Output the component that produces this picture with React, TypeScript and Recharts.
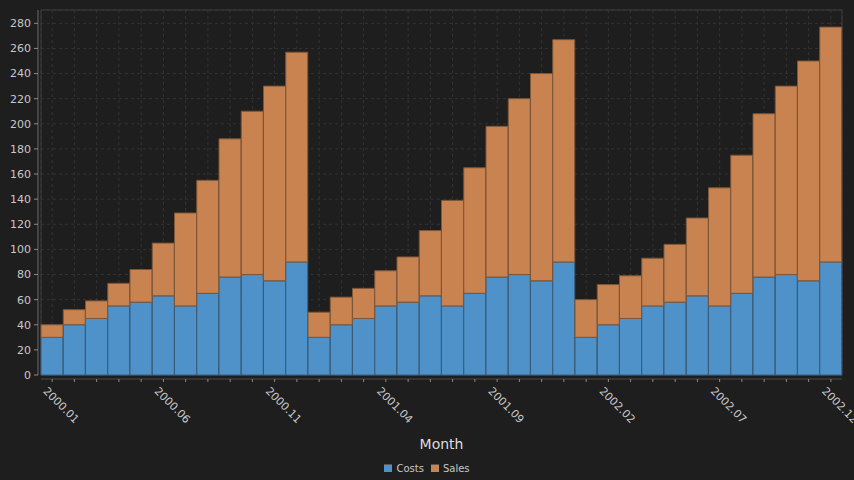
import React from 'react';
import { BarChart, Bar, XAxis, YAxis, CartesianGrid, Legend, Label, ReferenceArea } from 'recharts';

const months: string[] = [
  '2000.01','2000.02','2000.03','2000.04','2000.05','2000.06','2000.07','2000.08','2000.09','2000.10','2000.11','2000.12',
  '2001.01','2001.02','2001.03','2001.04','2001.05','2001.06','2001.07','2001.08','2001.09','2001.10','2001.11','2001.12',
  '2002.01','2002.02','2002.03','2002.04','2002.05','2002.06','2002.07','2002.08','2002.09','2002.10','2002.11','2002.12',
];

const costs: number[] = [
  30, 40, 45, 55, 58, 63, 55, 65, 78, 80, 75, 90,
  30, 40, 45, 55, 58, 63, 55, 65, 78, 80, 75, 90,
  30, 40, 45, 55, 58, 63, 55, 65, 78, 80, 75, 90,
];

const sales: number[] = [
  10, 12, 14, 18, 26, 42, 74, 90, 110, 130, 155, 167,
  20, 22, 24, 28, 36, 52, 84, 100, 120, 140, 165, 177,
  30, 32, 34, 38, 46, 62, 94, 110, 130, 150, 175, 187,
];

const yTicks: number[] = [0, 20, 40, 60, 80, 100, 120, 140, 160, 180, 200, 220, 240, 260, 280];

const data = months.map((m, i) => ({ month: m, Costs: costs[i], Sales: sales[i] }));

const BG = '#1e1e1e';
const BLUE = '#4f91c9';
const ORANGE = '#c98350';
const TEXT = '#c8c8c8';
const FONT = '"DejaVu Sans", sans-serif';

const XTick = (props: any) => {
  const { x, index, payload } = props;
  if (index % 5 !== 0) return null;
  const ox = x - 7;
  const oy = 389;
  return (
    <text
      x={ox}
      y={oy}
      dy="0.35em"
      textAnchor="start"
      transform={`rotate(45, ${ox}, ${oy})`}
      fill={TEXT}
      fontSize={11}
      fontFamily={FONT}
    >
      {payload.value}
    </text>
  );
};

const legendItems = [
  { name: 'Costs', color: BLUE },
  { name: 'Sales', color: ORANGE },
];

const LegendContent = () => (
  <div
    style={{
      width: 854,
      height: 24,
      display: 'flex',
      justifyContent: 'center',
      alignItems: 'center',
      fontFamily: FONT,
      fontSize: 10,
      color: TEXT,
    }}
  >
    {legendItems.map((it, i) => (
      <div
        key={it.name}
        style={{ display: 'flex', alignItems: 'center', marginLeft: i === 0 ? 0 : 7 }}
      >
        <div
          style={{
            width: 8,
            height: 7,
            background: it.color,
            borderTop: '1px solid #555',
            marginRight: 4,
          }}
        />
        <span>{it.name}</span>
      </div>
    ))}
  </div>
);

export default function App() {
  return (
    <div style={{ position: 'absolute', left: 0, top: 0, width: 854, height: 480, background: BG }}>
      <BarChart
        width={854}
        height={480}
        data={data}
        margin={{ top: 10, right: 12, bottom: 0, left: 0 }}
        barCategoryGap={0}
        barGap={0}
      >
        <CartesianGrid stroke="#333333" strokeDasharray="3 3" />
        <XAxis
          dataKey="month"
          interval={0}
          height={81}
          tickSize={3}
          tickMargin={0}
          tick={<XTick />}
          axisLine={{ stroke: '#4a4a4a', transform: 'translate(0,4)' } as any}
          tickLine={{ stroke: '#8a8a8a', transform: 'translate(0,4)' } as any}
        >
          <Label
            value="Month"
            position="insideBottom"
            offset={7}
            fill="#dddddd"
            fontSize={14}
            fontFamily={FONT}
          />
        </XAxis>
        <YAxis
          width={41}
          domain={[0, 290.6]}
          ticks={yTicks}
          interval={0}
          tickSize={4}
          tickMargin={6}
          tick={{ fill: TEXT, fontSize: 11, fontFamily: FONT }}
          axisLine={{ stroke: '#6a6a6a', transform: 'translate(-3,0)' } as any}
          tickLine={{ stroke: '#8a8a8a', transform: 'translate(-3,0)' } as any}
        />
        <Bar dataKey="Costs" stackId="a" fill={BLUE} stroke="#3b5c78" strokeWidth={1} isAnimationActive={false} />
        <Bar dataKey="Sales" stackId="a" fill={ORANGE} stroke="#7d5638" strokeWidth={1} isAnimationActive={false} />
        <ReferenceArea y1={0} y2={290.6} fill="none" stroke="#3c3c3c" strokeWidth={1} ifOverflow="visible" />
        <Legend
          verticalAlign="bottom"
          height={24}
          content={<LegendContent />}
          wrapperStyle={{ left: 0, width: 854, height: 24 }}
        />
      </BarChart>
    </div>
  );
}
